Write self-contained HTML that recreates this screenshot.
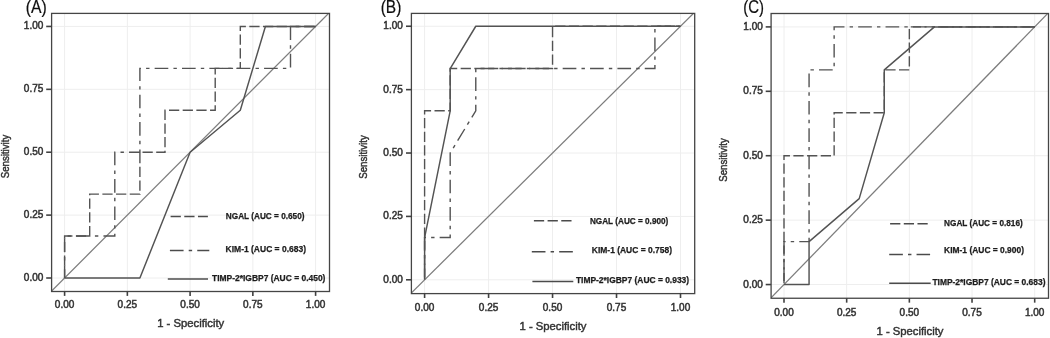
<!DOCTYPE html>
<html><head><meta charset="utf-8"><title>ROC curves</title>
<style>
html,body{margin:0;padding:0;background:#fff;}
body{width:1050px;height:338px;overflow:hidden;}
svg{display:block;}
text{font-family:"Liberation Sans",sans-serif;}
.tk{font-size:10px;fill:#333333;stroke:#333;stroke-width:0.5px;}
.ax{font-size:11.3px;fill:#333333;stroke:#333;stroke-width:0.45px;}
.lg{font-size:8.8px;font-weight:bold;fill:#1c1c1c;stroke:#1c1c1c;stroke-width:0.25px;}
.pt{font-size:18px;fill:#111;stroke:#111;stroke-width:0.2px;}
</style></head><body>
<svg width="1050" height="338" viewBox="0 0 1050 338">
<defs><filter id="soft" x="0" y="0" width="100%" height="100%" filterUnits="userSpaceOnUse"><feGaussianBlur stdDeviation="0.4"/></filter></defs>
<rect x="0" y="0" width="1050" height="338" fill="#ffffff"/>
<g filter="url(#soft)">

<g>
<line x1="64.60" y1="13.40" x2="64.60" y2="291.50" stroke="#eeeeee" stroke-width="1"/>
<line x1="51.60" y1="278.00" x2="329.50" y2="278.00" stroke="#eeeeee" stroke-width="1"/>
<line x1="127.35" y1="13.40" x2="127.35" y2="291.50" stroke="#eeeeee" stroke-width="1"/>
<line x1="51.60" y1="215.11" x2="329.50" y2="215.11" stroke="#eeeeee" stroke-width="1"/>
<line x1="190.10" y1="13.40" x2="190.10" y2="291.50" stroke="#eeeeee" stroke-width="1"/>
<line x1="51.60" y1="152.22" x2="329.50" y2="152.22" stroke="#eeeeee" stroke-width="1"/>
<line x1="252.85" y1="13.40" x2="252.85" y2="291.50" stroke="#eeeeee" stroke-width="1"/>
<line x1="51.60" y1="89.34" x2="329.50" y2="89.34" stroke="#eeeeee" stroke-width="1"/>
<line x1="315.60" y1="13.40" x2="315.60" y2="291.50" stroke="#eeeeee" stroke-width="1"/>
<line x1="51.60" y1="26.45" x2="329.50" y2="26.45" stroke="#eeeeee" stroke-width="1"/>
<clipPath id="cpA"><rect x="51.60" y="13.40" width="277.90" height="278.10"/></clipPath>
<line x1="39.50" y1="303.15" x2="340.70" y2="1.29" stroke="#7c7c7c" stroke-width="1.25" clip-path="url(#cpA)"/>
<path d="M64.60 278.00 L64.60 236.07 L89.70 236.07 L89.70 194.15 L139.90 194.15 L139.90 152.22 L165.00 152.22 L165.00 110.30 L215.20 110.30 L215.20 68.37 L240.30 68.37 L240.30 26.45 L315.60 26.45" fill="none" stroke="#535353" stroke-width="1.4" stroke-dasharray="10.26 3.42" stroke-dashoffset="1.50"/>
<path d="M64.60 278.00 L64.60 236.07 L114.80 236.07 L114.80 152.22 L139.90 152.22 L139.90 68.37 L290.50 68.37 L290.50 26.45 L315.60 26.45" fill="none" stroke="#535353" stroke-width="1.4" stroke-dasharray="13.68 5.13 3.42 5.13" stroke-dashoffset="1.30"/>
<path d="M64.60 278.00 L139.90 278.00 L190.10 152.22 L240.30 110.30 L265.40 26.45 L315.60 26.45" fill="none" stroke="#535353" stroke-width="1.45" stroke-linejoin="round"/>
<rect x="51.60" y="13.40" width="277.90" height="278.10" fill="none" stroke="#454545" stroke-width="1.3"/>
<line x1="46.20" y1="278.00" x2="51.60" y2="278.00" stroke="#404040" stroke-width="1.6"/>
<line x1="64.60" y1="291.50" x2="64.60" y2="295.90" stroke="#404040" stroke-width="1.6"/>
<text class="tk" x="43.30" y="281.00" text-anchor="end">0.00</text>
<text class="tk" x="64.60" y="308.20" text-anchor="middle">0.00</text>
<line x1="46.20" y1="215.11" x2="51.60" y2="215.11" stroke="#404040" stroke-width="1.6"/>
<line x1="127.35" y1="291.50" x2="127.35" y2="295.90" stroke="#404040" stroke-width="1.6"/>
<text class="tk" x="43.30" y="218.11" text-anchor="end">0.25</text>
<text class="tk" x="127.35" y="308.20" text-anchor="middle">0.25</text>
<line x1="46.20" y1="152.22" x2="51.60" y2="152.22" stroke="#404040" stroke-width="1.6"/>
<line x1="190.10" y1="291.50" x2="190.10" y2="295.90" stroke="#404040" stroke-width="1.6"/>
<text class="tk" x="43.30" y="155.22" text-anchor="end">0.50</text>
<text class="tk" x="190.10" y="308.20" text-anchor="middle">0.50</text>
<line x1="46.20" y1="89.34" x2="51.60" y2="89.34" stroke="#404040" stroke-width="1.6"/>
<line x1="252.85" y1="291.50" x2="252.85" y2="295.90" stroke="#404040" stroke-width="1.6"/>
<text class="tk" x="43.30" y="92.34" text-anchor="end">0.75</text>
<text class="tk" x="252.85" y="308.20" text-anchor="middle">0.75</text>
<line x1="46.20" y1="26.45" x2="51.60" y2="26.45" stroke="#404040" stroke-width="1.6"/>
<line x1="315.60" y1="291.50" x2="315.60" y2="295.90" stroke="#404040" stroke-width="1.6"/>
<text class="tk" x="43.30" y="29.45" text-anchor="end">1.00</text>
<text class="tk" x="315.60" y="308.20" text-anchor="middle">1.00</text>
<text class="ax" transform="translate(9.00 156.50) rotate(-90)" text-anchor="middle" textLength="43.5" lengthAdjust="spacingAndGlyphs" style="font-size:10.5px">Sensitivity</text>
<text class="ax" x="190.70" y="327.00" text-anchor="middle" textLength="67">1 - Specificity</text>
<text class="pt" x="25.70" y="13.20" textLength="21.00" lengthAdjust="spacingAndGlyphs">(A)</text>
<line x1="170.60" y1="216.60" x2="207.90" y2="216.60" stroke="#4c4c4c" stroke-width="1.5" stroke-dasharray="10.26 3.42"/>
<text class="lg" x="225.80" y="219.10" textLength="78.70" lengthAdjust="spacingAndGlyphs">NGAL (AUC = 0.650)</text>
<line x1="169.90" y1="250.50" x2="209.30" y2="250.50" stroke="#4c4c4c" stroke-width="1.5" stroke-dasharray="13.68 5.13 3.42 5.13"/>
<text class="lg" x="225.60" y="252.05" textLength="80.40" lengthAdjust="spacingAndGlyphs">KIM-1 (AUC = 0.683)</text>
<line x1="167.80" y1="278.90" x2="208.00" y2="278.90" stroke="#4c4c4c" stroke-width="1.5"/>
<text class="lg" x="212.00" y="280.60" textLength="113.40" lengthAdjust="spacingAndGlyphs">TIMP-2*IGBP7 (AUC = 0.450)</text>
</g>
<g>
<line x1="424.60" y1="13.40" x2="424.60" y2="293.60" stroke="#eeeeee" stroke-width="1"/>
<line x1="411.40" y1="279.80" x2="694.70" y2="279.80" stroke="#eeeeee" stroke-width="1"/>
<line x1="488.58" y1="13.40" x2="488.58" y2="293.60" stroke="#eeeeee" stroke-width="1"/>
<line x1="411.40" y1="216.41" x2="694.70" y2="216.41" stroke="#eeeeee" stroke-width="1"/>
<line x1="552.55" y1="13.40" x2="552.55" y2="293.60" stroke="#eeeeee" stroke-width="1"/>
<line x1="411.40" y1="153.03" x2="694.70" y2="153.03" stroke="#eeeeee" stroke-width="1"/>
<line x1="616.52" y1="13.40" x2="616.52" y2="293.60" stroke="#eeeeee" stroke-width="1"/>
<line x1="411.40" y1="89.64" x2="694.70" y2="89.64" stroke="#eeeeee" stroke-width="1"/>
<line x1="680.50" y1="13.40" x2="680.50" y2="293.60" stroke="#eeeeee" stroke-width="1"/>
<line x1="411.40" y1="26.25" x2="694.70" y2="26.25" stroke="#eeeeee" stroke-width="1"/>
<clipPath id="cpB"><rect x="411.40" y="13.40" width="283.30" height="280.20"/></clipPath>
<line x1="399.01" y1="305.16" x2="706.09" y2="0.89" stroke="#7c7c7c" stroke-width="1.25" clip-path="url(#cpB)"/>
<path d="M424.60 279.80 L424.60 110.77 L450.19 110.77 L450.19 68.51 L552.55 68.51 L552.55 26.25 L680.50 26.25" fill="none" stroke="#535353" stroke-width="1.4" stroke-dasharray="10.26 3.42" stroke-dashoffset="-1.10"/>
<path d="M424.60 279.80 L424.60 237.54 L450.19 237.54 L450.19 153.03 L475.78 110.77 L475.78 68.51 L654.91 68.51 L654.91 26.25 L680.50 26.25" fill="none" stroke="#535353" stroke-width="1.4" stroke-dasharray="13.68 5.13 3.42 5.13" stroke-dashoffset="-2.60"/>
<path d="M424.60 279.80 L424.60 237.54 L450.19 110.77 L450.19 68.51 L475.78 26.25 L680.50 26.25" fill="none" stroke="#535353" stroke-width="1.45" stroke-linejoin="round"/>
<rect x="411.40" y="13.40" width="283.30" height="280.20" fill="none" stroke="#454545" stroke-width="1.3"/>
<line x1="406.00" y1="279.80" x2="411.40" y2="279.80" stroke="#404040" stroke-width="1.6"/>
<line x1="424.60" y1="293.60" x2="424.60" y2="298.00" stroke="#404040" stroke-width="1.6"/>
<text class="tk" x="402.80" y="282.80" text-anchor="end">0.00</text>
<text class="tk" x="424.60" y="310.50" text-anchor="middle">0.00</text>
<line x1="406.00" y1="216.41" x2="411.40" y2="216.41" stroke="#404040" stroke-width="1.6"/>
<line x1="488.58" y1="293.60" x2="488.58" y2="298.00" stroke="#404040" stroke-width="1.6"/>
<text class="tk" x="402.80" y="219.41" text-anchor="end">0.25</text>
<text class="tk" x="488.58" y="310.50" text-anchor="middle">0.25</text>
<line x1="406.00" y1="153.03" x2="411.40" y2="153.03" stroke="#404040" stroke-width="1.6"/>
<line x1="552.55" y1="293.60" x2="552.55" y2="298.00" stroke="#404040" stroke-width="1.6"/>
<text class="tk" x="402.80" y="156.03" text-anchor="end">0.50</text>
<text class="tk" x="552.55" y="310.50" text-anchor="middle">0.50</text>
<line x1="406.00" y1="89.64" x2="411.40" y2="89.64" stroke="#404040" stroke-width="1.6"/>
<line x1="616.52" y1="293.60" x2="616.52" y2="298.00" stroke="#404040" stroke-width="1.6"/>
<text class="tk" x="402.80" y="92.64" text-anchor="end">0.75</text>
<text class="tk" x="616.52" y="310.50" text-anchor="middle">0.75</text>
<line x1="406.00" y1="26.25" x2="411.40" y2="26.25" stroke="#404040" stroke-width="1.6"/>
<line x1="680.50" y1="293.60" x2="680.50" y2="298.00" stroke="#404040" stroke-width="1.6"/>
<text class="tk" x="402.80" y="29.25" text-anchor="end">1.00</text>
<text class="tk" x="680.50" y="310.50" text-anchor="middle">1.00</text>
<text class="ax" transform="translate(367.00 157.00) rotate(-90)" text-anchor="middle" textLength="43.5" lengthAdjust="spacingAndGlyphs" style="font-size:10.5px">Sensitivity</text>
<text class="ax" x="553.00" y="329.70" text-anchor="middle" textLength="67">1 - Specificity</text>
<text class="pt" x="380.70" y="13.20" textLength="20.70" lengthAdjust="spacingAndGlyphs">(B)</text>
<line x1="533.90" y1="220.70" x2="572.70" y2="220.70" stroke="#4c4c4c" stroke-width="1.5" stroke-dasharray="10.26 3.42"/>
<text class="lg" x="589.90" y="223.50" textLength="78.40" lengthAdjust="spacingAndGlyphs">NGAL (AUC = 0.900)</text>
<line x1="531.80" y1="251.80" x2="573.90" y2="251.80" stroke="#4c4c4c" stroke-width="1.5" stroke-dasharray="13.68 5.13 3.42 5.13"/>
<text class="lg" x="591.80" y="253.10" textLength="80.20" lengthAdjust="spacingAndGlyphs">KIM-1 (AUC = 0.758)</text>
<line x1="532.40" y1="281.40" x2="573.30" y2="281.40" stroke="#4c4c4c" stroke-width="1.5"/>
<text class="lg" x="575.90" y="282.80" textLength="113.20" lengthAdjust="spacingAndGlyphs">TIMP-2*IGBP7 (AUC = 0.933)</text>
</g>
<g>
<line x1="784.00" y1="13.50" x2="784.00" y2="298.25" stroke="#eeeeee" stroke-width="1"/>
<line x1="771.10" y1="284.55" x2="1048.50" y2="284.55" stroke="#eeeeee" stroke-width="1"/>
<line x1="846.67" y1="13.50" x2="846.67" y2="298.25" stroke="#eeeeee" stroke-width="1"/>
<line x1="771.10" y1="220.14" x2="1048.50" y2="220.14" stroke="#eeeeee" stroke-width="1"/>
<line x1="909.35" y1="13.50" x2="909.35" y2="298.25" stroke="#eeeeee" stroke-width="1"/>
<line x1="771.10" y1="155.72" x2="1048.50" y2="155.72" stroke="#eeeeee" stroke-width="1"/>
<line x1="972.03" y1="13.50" x2="972.03" y2="298.25" stroke="#eeeeee" stroke-width="1"/>
<line x1="771.10" y1="91.31" x2="1048.50" y2="91.31" stroke="#eeeeee" stroke-width="1"/>
<line x1="1034.70" y1="13.50" x2="1034.70" y2="298.25" stroke="#eeeeee" stroke-width="1"/>
<line x1="771.10" y1="26.90" x2="1048.50" y2="26.90" stroke="#eeeeee" stroke-width="1"/>
<clipPath id="cpC"><rect x="771.10" y="13.50" width="277.40" height="284.75"/></clipPath>
<line x1="758.93" y1="310.31" x2="1059.77" y2="1.13" stroke="#7c7c7c" stroke-width="1.25" clip-path="url(#cpC)"/>
<path d="M784.00 284.55 L784.00 155.72 L834.14 155.72 L834.14 112.78 L884.28 112.78 L884.28 69.84 L909.35 69.84 L909.35 26.90 L1034.70 26.90" fill="none" stroke="#535353" stroke-width="1.4" stroke-dasharray="10.26 3.42" stroke-dashoffset="-1.40"/>
<path d="M784.00 284.55 L784.00 241.61 L809.07 241.61 L809.07 69.84 L834.14 69.84 L834.14 26.90 L1034.70 26.90" fill="none" stroke="#535353" stroke-width="1.4" stroke-dasharray="13.68 5.13 3.42 5.13" stroke-dashoffset="-3.50"/>
<path d="M784.00 284.55 L809.07 284.55 L809.07 241.61 L859.21 198.67 L884.28 112.78 L884.28 69.84 L934.42 26.90 L1034.70 26.90" fill="none" stroke="#535353" stroke-width="1.45" stroke-linejoin="round"/>
<rect x="771.10" y="13.50" width="277.40" height="284.75" fill="none" stroke="#454545" stroke-width="1.3"/>
<line x1="765.70" y1="284.55" x2="771.10" y2="284.55" stroke="#404040" stroke-width="1.6"/>
<line x1="784.00" y1="298.25" x2="784.00" y2="302.65" stroke="#404040" stroke-width="1.6"/>
<text class="tk" x="762.80" y="287.55" text-anchor="end">0.00</text>
<text class="tk" x="784.00" y="315.80" text-anchor="middle">0.00</text>
<line x1="765.70" y1="220.14" x2="771.10" y2="220.14" stroke="#404040" stroke-width="1.6"/>
<line x1="846.67" y1="298.25" x2="846.67" y2="302.65" stroke="#404040" stroke-width="1.6"/>
<text class="tk" x="762.80" y="223.14" text-anchor="end">0.25</text>
<text class="tk" x="846.67" y="315.80" text-anchor="middle">0.25</text>
<line x1="765.70" y1="155.72" x2="771.10" y2="155.72" stroke="#404040" stroke-width="1.6"/>
<line x1="909.35" y1="298.25" x2="909.35" y2="302.65" stroke="#404040" stroke-width="1.6"/>
<text class="tk" x="762.80" y="158.72" text-anchor="end">0.50</text>
<text class="tk" x="909.35" y="315.80" text-anchor="middle">0.50</text>
<line x1="765.70" y1="91.31" x2="771.10" y2="91.31" stroke="#404040" stroke-width="1.6"/>
<line x1="972.03" y1="298.25" x2="972.03" y2="302.65" stroke="#404040" stroke-width="1.6"/>
<text class="tk" x="762.80" y="94.31" text-anchor="end">0.75</text>
<text class="tk" x="972.03" y="315.80" text-anchor="middle">0.75</text>
<line x1="765.70" y1="26.90" x2="771.10" y2="26.90" stroke="#404040" stroke-width="1.6"/>
<line x1="1034.70" y1="298.25" x2="1034.70" y2="302.65" stroke="#404040" stroke-width="1.6"/>
<text class="tk" x="762.80" y="29.90" text-anchor="end">1.00</text>
<text class="tk" x="1034.70" y="315.80" text-anchor="middle">1.00</text>
<text class="ax" transform="translate(727.00 160.00) rotate(-90)" text-anchor="middle" textLength="43.5" lengthAdjust="spacingAndGlyphs" style="font-size:10.5px">Sensitivity</text>
<text class="ax" x="910.00" y="334.80" text-anchor="middle" textLength="67">1 - Specificity</text>
<text class="pt" x="743.20" y="13.20" textLength="20.70" lengthAdjust="spacingAndGlyphs">(C)</text>
<line x1="890.10" y1="223.70" x2="927.70" y2="223.70" stroke="#4c4c4c" stroke-width="1.5" stroke-dasharray="10.26 3.42"/>
<text class="lg" x="944.10" y="225.80" textLength="78.60" lengthAdjust="spacingAndGlyphs">NGAL (AUC = 0.816)</text>
<line x1="889.20" y1="254.50" x2="930.10" y2="254.50" stroke="#4c4c4c" stroke-width="1.5" stroke-dasharray="13.68 5.13 3.42 5.13"/>
<text class="lg" x="944.10" y="252.90" textLength="79.90" lengthAdjust="spacingAndGlyphs">KIM-1 (AUC = 0.900)</text>
<line x1="889.20" y1="283.20" x2="930.70" y2="283.20" stroke="#4c4c4c" stroke-width="1.5"/>
<text class="lg" x="932.40" y="284.90" textLength="113.10" lengthAdjust="spacingAndGlyphs">TIMP-2*IGBP7 (AUC = 0.683)</text>
</g>
</g></svg></body></html>
